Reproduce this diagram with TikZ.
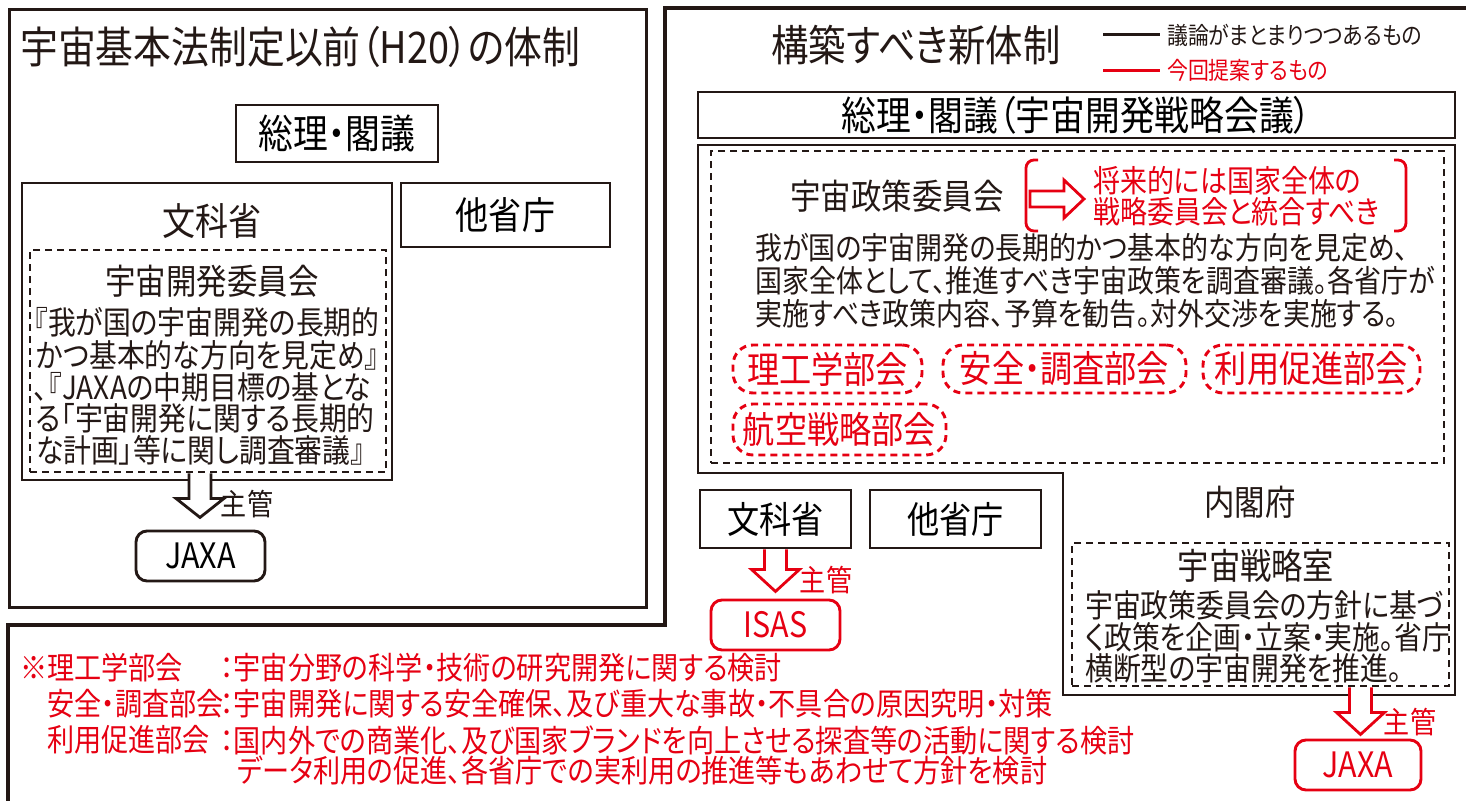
\documentclass[tikz,border=0pt]{standalone}
\usepackage{fontspec}
\setmainfont{Noto Sans CJK JP}[FakeStretch=0.87,RawFeature=+palt]
\usetikzlibrary{calc}
\definecolor{rd}{RGB}{230,0,18}
\definecolor{bk}{RGB}{35,24,21}
\newcommand\fsz[1]{\fontsize{#1}{#1}\selectfont}
\newcommand\hdown[4]{\draw[#2,line width=2.8pt,fill=white,line join=miter] (#1) ++(-11,0) -- ++(0,#3) -- ++(-13,0) -- ++(24,#4) -- ++(24,-#4) -- ++(-13,0) -- ++(0,-#3);}
\tikzset{
  frame/.style={draw=bk,line width=3.2pt},
  box/.style={draw=bk,line width=2.9pt,inner sep=0pt},
  dbox/.style={draw=bk,line width=2.9pt,dash pattern=on 7pt off 5pt,inner sep=0pt},
  rbox/.style={draw=rd,line width=2.9pt,rounded corners=11pt,inner sep=0pt,text=rd},
  kbox/.style={draw=bk,line width=2.9pt,rounded corners=11pt,inner sep=0pt},
  rdbox/.style={draw=rd,line width=2.9pt,dash pattern=on 7pt off 5pt,rounded corners=20pt,inner sep=0pt,text=rd},
  txt/.style={inner sep=0pt,text=bk},
  rtxt/.style={inner sep=0pt,text=rd},
}
\begin{document}
\begin{tikzpicture}[x=1pt,y=-1pt]
\useasboundingbox (0,0) rectangle (1466,800);
% ---------- left frame ----------
\node[frame,minimum width=637,minimum height=598,anchor=north west] (leftframe) at (8,8) {};
\draw[frame] (1480,8) -- (665,8) -- (665,625) -- (8,625) -- (8,810);
\node[txt,anchor=west,font=\fsz{43.5}] (t1) at (20,47) {宇宙基本法制定以前（H20）の体制};
\node[box,minimum width=202,minimum height=57,font=\fsz{40}] (sori1) at (337,133.5) {総理・閣議};
\node[box,minimum width=370,minimum height=297] (mext1) at (207,331.5) {};
\node[txt,font=\fsz{38}] (mext1t) at (212,221) {文科省};
\node[box,minimum width=209,minimum height=64,font=\fsz{38}] (other1) at (505.5,215) {他省庁};
\node[dbox,minimum width=356,minimum height=222] (sdc) at (208,361) {};
\node[txt,font=\fsz{35}] (sdct) at (212,281) {宇宙開発委員会};
\node[txt,anchor=west,font=\fsz{32}] (lb1) at (34,322) {『我が国の宇宙開発の長期的};
\node[txt,anchor=west,font=\fsz{32}] (lb2) at (36,355) {かつ基本的な方向を見定め』};
\node[txt,anchor=west,font=\fsz{32}] (lb3) at (34,387) {、『JAXAの中期目標の基とな};
\node[txt,anchor=west,font=\fsz{32}] (lb4) at (36,418) {る「宇宙開発に関する長期的};
\node[txt,anchor=west,font=\fsz{32}] (lb5) at (36,450) {な計画」等に関し調査審議』};
\coordinate (a1) at ($(sdc.south)+(-8,0)$);
\hdown{a1}{draw=bk}{25}{19}
\node[txt,font=\fsz{30}] (lk1) at (247,504) {主管};
\node[kbox,minimum width=129,minimum height=50,font=\fsz{35}] (jaxa1) at (200.5,556) {JAXA};
% ---------- right ----------
\node[txt,font=\fsz{43}] (t2) at (916,45) {構築すべき新体制};
\coordinate (lg1a) at (1103,35); \coordinate (lg1b) at (1160,35);
\draw[draw=bk,line width=3pt] (lg1a) -- (lg1b);
\node[txt,anchor=west,font=\fsz{24}] (lg1) at (1167,35) {議論がまとまりつつあるもの};
\coordinate (lg2a) at (1103,70); \coordinate (lg2b) at (1160,70);
\draw[draw=rd,line width=3pt] (lg2a) -- (lg2b);
\node[rtxt,anchor=west,font=\fsz{24}] (lg2) at (1167,70) {今回提案するもの};
\node[box,minimum width=757,minimum height=46,font=\fsz{40}] (sori2) at (1076.5,115) {総理・閣議（宇宙開発戦略会議）};
\draw[frame,line width=2.9pt] (698,145) -- (1455,145) -- (1455,695) -- (1063,695) -- (1063,473) -- (698,473) -- cycle;
\node[dbox,minimum width=733,minimum height=312] (spc) at (1077.5,307) {};
\node[txt,font=\fsz{35}] (spct) at (897,196) {宇宙政策委員会};
\coordinate (ra) at (1030,199);
\draw[draw=rd,line width=2.8pt,fill=white,line join=miter] (ra) ++(0,-8) -- ++(34,0) -- ++(0,-11) -- ++(20,19) -- ++(-20,19) -- ++(0,-11) -- ++(-34,0) -- cycle;
\draw[draw=rd,line width=2.8pt,rounded corners=8pt] (1038,160) -- (1026,160) -- (1026,231) -- (1038,231);
\draw[draw=rd,line width=2.8pt,rounded corners=8pt] (1394,160) -- (1406,160) -- (1406,231) -- (1394,231);
\node[rtxt,anchor=west,font=\fsz{31}] (rn1) at (1093,181) {将来的には国家全体の};
\node[rtxt,anchor=west,font=\fsz{31}] (rn2) at (1093,212) {戦略委員会と統合すべき};
\node[txt,anchor=west,font=\fsz{31}] (rb1) at (755,248) {我が国の宇宙開発の長期的かつ基本的な方向を見定め、};
\node[txt,anchor=west,font=\fsz{31}] (rb2) at (755,281) {国家全体として、推進すべき宇宙政策を調査審議。各省庁が};
\node[txt,anchor=west,font=\fsz{31}] (rb3) at (755,314) {実施すべき政策内容、予算を勧告。対外交渉を実施する。};
\node[rdbox,minimum width=189,minimum height=48,font=\fsz{37}] (bk1) at (827.5,369) {理工学部会};
\node[rdbox,minimum width=243,minimum height=48,font=\fsz{37}] (bk2) at (1064.5,369) {安全・調査部会};
\node[rdbox,minimum width=217,minimum height=48,font=\fsz{37}] (bk3) at (1311.5,369) {利用促進部会};
\node[rdbox,minimum width=213,minimum height=51,font=\fsz{37}] (bk4) at (839.5,429.5) {航空戦略部会};
\node[txt,font=\fsz{35}] (cao) at (1250,502) {内閣府};
\node[box,minimum width=151,minimum height=58,font=\fsz{37}] (mext2) at (775.5,519) {文科省};
\node[box,minimum width=171,minimum height=58,font=\fsz{37}] (other2) at (955.5,519) {他省庁};
\node[dbox,minimum width=377,minimum height=143] (ssr) at (1260.5,614.5) {};
\node[txt,font=\fsz{36}] (ssrt) at (1256,566) {宇宙戦略室};
\node[txt,anchor=west,font=\fsz{32}] (sb1) at (1085,605) {宇宙政策委員会の方針に基づ};
\node[txt,anchor=west,font=\fsz{32}] (sb2) at (1085,637) {く政策を企画・立案・実施。省庁};
\node[txt,anchor=west,font=\fsz{32}] (sb3) at (1085,668) {横断型の宇宙開発を推進。};
\coordinate (a2) at (mext2.south);
\hdown{a2}{draw=rd}{20}{22}
\node[rtxt,font=\fsz{30}] (rk2) at (826,580) {主管};
\node[rbox,minimum width=129,minimum height=50,font=\fsz{35}] (isas) at (775.5,625) {ISAS};
\coordinate (a3) at ($(ssr.south)+(100,0)$);
\hdown{a3}{draw=rd}{25}{22}
\node[rtxt,font=\fsz{30}] (rk3) at (1410,722) {主管};
\node[rbox,minimum width=126,minimum height=50,font=\fsz{35}] (jaxa2) at (1358,765) {JAXA};
% ---------- notes ----------
\node[rtxt,anchor=west,font=\fsz{31.2}] (n1a) at (20,668) {※理工学部会};
\node[rtxt,anchor=west,font=\fsz{31.2}] (n1b) at (220,668) {：宇宙分野の科学・技術の研究開発に関する検討};
\node[rtxt,anchor=west,font=\fsz{31.2}] (n2a) at (47,704) {安全・調査部会};
\node[rtxt,anchor=west,font=\fsz{31.2}] (n2b) at (220,704) {：宇宙開発に関する安全確保、及び重大な事故・不具合の原因究明・対策};
\node[rtxt,anchor=west,font=\fsz{31.2}] (n3a) at (47,740) {利用促進部会};
\node[rtxt,anchor=west,font=\fsz{31.2}] (n3b) at (220,740) {：国内外での商業化、及び国家ブランドを向上させる探査等の活動に関する検討};
\node[rtxt,anchor=west,font=\fsz{31.2}] (n4) at (237,771) {データ利用の促進、各省庁での実利用の推進等もあわせて方針を検討};
\end{tikzpicture}
\end{document}
